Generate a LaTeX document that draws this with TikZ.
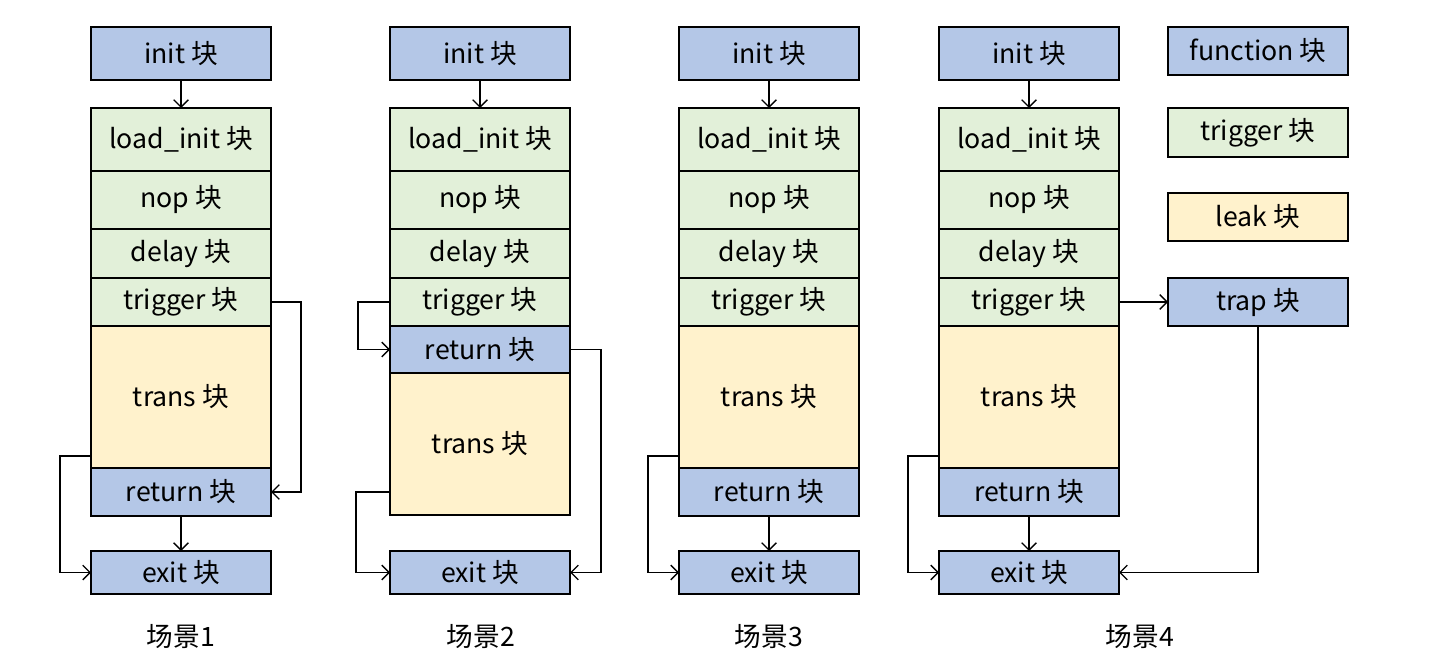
\documentclass[tikz,border=0pt]{standalone}
\usepackage{fontspec}
\setmainfont{Noto Sans CJK SC}
\usepackage{xcolor}
\usepackage{tikz}
\usetikzlibrary{arrows.meta}

\definecolor{blkblue}{HTML}{B4C7E7}
\definecolor{blkgreen}{HTML}{E2F0D9}
\definecolor{blkyellow}{HTML}{FFF2CC}

\begin{document}
\begin{tikzpicture}[
  x=0.75pt, y=-0.75pt,
  blk/.style={draw, line width=1.5pt, anchor=north west, minimum width=135pt,
    inner sep=0pt, outer sep=0pt, font=\fontsize{20}{24}\selectfont},
  fnblk/.style={blk, fill=blkblue},
  trigblk/.style={blk, fill=blkgreen},
  leakblk/.style={blk, fill=blkyellow},
  link/.style={draw, line width=1pt, -{Straight Barb[length=5.5pt, width=11pt]}},
  caption/.style={font=\fontsize{20}{24}\selectfont}
]
\useasboundingbox (0,0) rectangle (1444,670);

% common top of every scene
\foreach \x/\i in {91/1, 390/2, 679/3, 939/4} {
  \node[fnblk, minimum height=39.75pt] (init\i) at (\x,27) {init 块};
  \node[trigblk, minimum height=47.25pt] (load\i) at (\x,108) {load\_init 块};
  \node[trigblk, minimum height=43.5pt] (nop\i) at (\x,171) {nop 块};
  \node[trigblk, minimum height=36.75pt] (delay\i) at (\x,229) {delay 块};
  \node[trigblk, minimum height=36pt] (trig\i) at (\x,278) {trigger 块};
  \node[fnblk, minimum height=32.25pt] (exit\i) at (\x,551) {exit 块};
  \draw[link] (init\i) -- (load\i);
}

% scene 1, 3, 4
\foreach \x/\i in {91/1, 679/3, 939/4} {
  \node[leakblk, minimum height=106.5pt] (trans\i) at (\x,326) {trans 块};
  \node[fnblk, minimum height=36pt] (ret\i) at (\x,468) {return 块};
  \draw[link] (ret\i) -- (exit\i);
  \draw[link] ([yshift=9pt]trans\i.south west) -- ++(-31,0) |- (exit\i.west);
}

% scene 2
\node[fnblk, minimum height=35.25pt] (ret2) at (390,326) {return 块};
\node[leakblk, minimum height=106.5pt] (trans2) at (390,373) {trans 块};

% legend
\node[fnblk, minimum height=36pt] (func) at (1168,27) {function 块};
\node[trigblk, minimum height=36.75pt] (trigkey) at (1168,108) {trigger 块};
\node[leakblk, minimum height=36pt] (leak) at (1168,193) {leak 块};
\node[fnblk, minimum height=36pt] (trap) at (1168,278) {trap 块};

% jumps
\draw[link] (trig1.east) -- ++(30,0) |- (ret1.east);
\draw[link] (trig2.west) -- ++(-32,0) |- (ret2.west);
\draw[link] (ret2.east) -- ++(31,0) |- (exit2.east);
\draw[link] ([yshift=17.25pt]trans2.south west) -- ++(-34,0) |- (exit2.west);
\draw[link] (trig4.east) -- (trap.west);
\draw[link] (trap.south) |- (exit4.east);

% captions
\node[caption] (cap1) at (181,637) {场景1};
\node[caption] (cap2) at (481,637) {场景2};
\node[caption] (cap3) at (769,637) {场景3};
\node[caption] (cap4) at (1140,637) {场景4};
\end{tikzpicture}
\end{document}
